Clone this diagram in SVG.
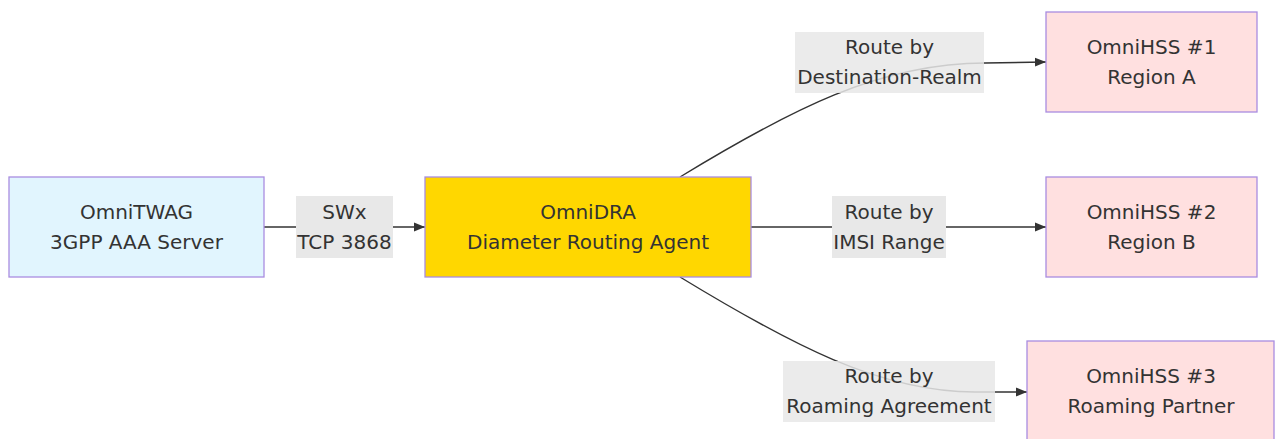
<svg xmlns="http://www.w3.org/2000/svg" width="1275" height="439" viewBox="0 0 1275 439">
<style>
  text { font-family: "DejaVu Sans", "Liberation Sans", sans-serif; font-size: 20px; fill: #333; text-anchor: middle; dominant-baseline: central; }
  .node rect { stroke: #a98de0; stroke-width: 1.3; }
  .twag rect { fill: #e1f5fe; }
  .dra rect { fill: #ffd700; }
  .hss rect { fill: #ffe0e0; }
  .edge { fill: none; stroke: #333; stroke-width: 1.4; }
  .elabel rect { fill: #e8e8e8; }
  .elabel.see rect { fill-opacity: 0.85; }
</style>
<defs>
  <marker id="arrow" markerUnits="userSpaceOnUse" markerWidth="11" markerHeight="11" viewBox="0 0 10 10" refX="10" refY="5" orient="auto">
    <path d="M0,1 L10,5 L0,9 z" fill="#333"/>
  </marker>
</defs>
<rect width="1275" height="439" fill="#fff"/>
<g id="connectors">
  <path class="edge" d="M264,227 L425,227" marker-end="url(#arrow)"/>
  <path class="edge" d="M751,227 L1046,227" marker-end="url(#arrow)"/>
  <path class="edge" d="M680,177 C790,110 880,63 985,63 L1046,62" marker-end="url(#arrow)"/>
  <path class="edge" d="M680,277 C790,344 880,392 975,392 L1027,392" marker-end="url(#arrow)"/>
  <g class="elabel" id="label-swx">
    <rect x="296" y="196" width="97" height="62"/>
    <text x="344.5" y="212">SWx</text>
    <text x="344.5" y="242">TCP 3868</text>
  </g>
  <g class="elabel see" id="label-realm">
    <rect x="795" y="32" width="189" height="61"/>
    <text x="889.5" y="47">Route by</text>
    <text x="889.5" y="77">Destination-Realm</text>
  </g>
  <g class="elabel" id="label-imsi">
    <rect x="832" y="196" width="114" height="62"/>
    <text x="889" y="212">Route by</text>
    <text x="889" y="242">IMSI Range</text>
  </g>
  <g class="elabel see" id="label-roaming">
    <rect x="783" y="361" width="212" height="61"/>
    <text x="889" y="376">Route by</text>
    <text x="889" y="406">Roaming Agreement</text>
  </g>
</g>
<g id="omnitwag" class="node twag">
  <rect x="9" y="177" width="255" height="100"/>
  <text x="136.5" y="212">OmniTWAG</text>
  <text x="136.5" y="242">3GPP AAA Server</text>
</g>
<g id="omnidra" class="node dra">
  <rect x="425" y="177" width="326" height="100"/>
  <text x="588" y="212">OmniDRA</text>
  <text x="588" y="242">Diameter Routing Agent</text>
</g>
<g id="omnihss1" class="node hss">
  <rect x="1046" y="12" width="211" height="100"/>
  <text x="1151.5" y="47">OmniHSS #1</text>
  <text x="1151.5" y="77">Region A</text>
</g>
<g id="omnihss2" class="node hss">
  <rect x="1046" y="177" width="211" height="100"/>
  <text x="1151.5" y="212">OmniHSS #2</text>
  <text x="1151.5" y="242">Region B</text>
</g>
<g id="omnihss3" class="node hss">
  <rect x="1027" y="341" width="247" height="100"/>
  <text x="1151" y="376">OmniHSS #3</text>
  <text x="1151" y="406">Roaming Partner</text>
</g>
</svg>
